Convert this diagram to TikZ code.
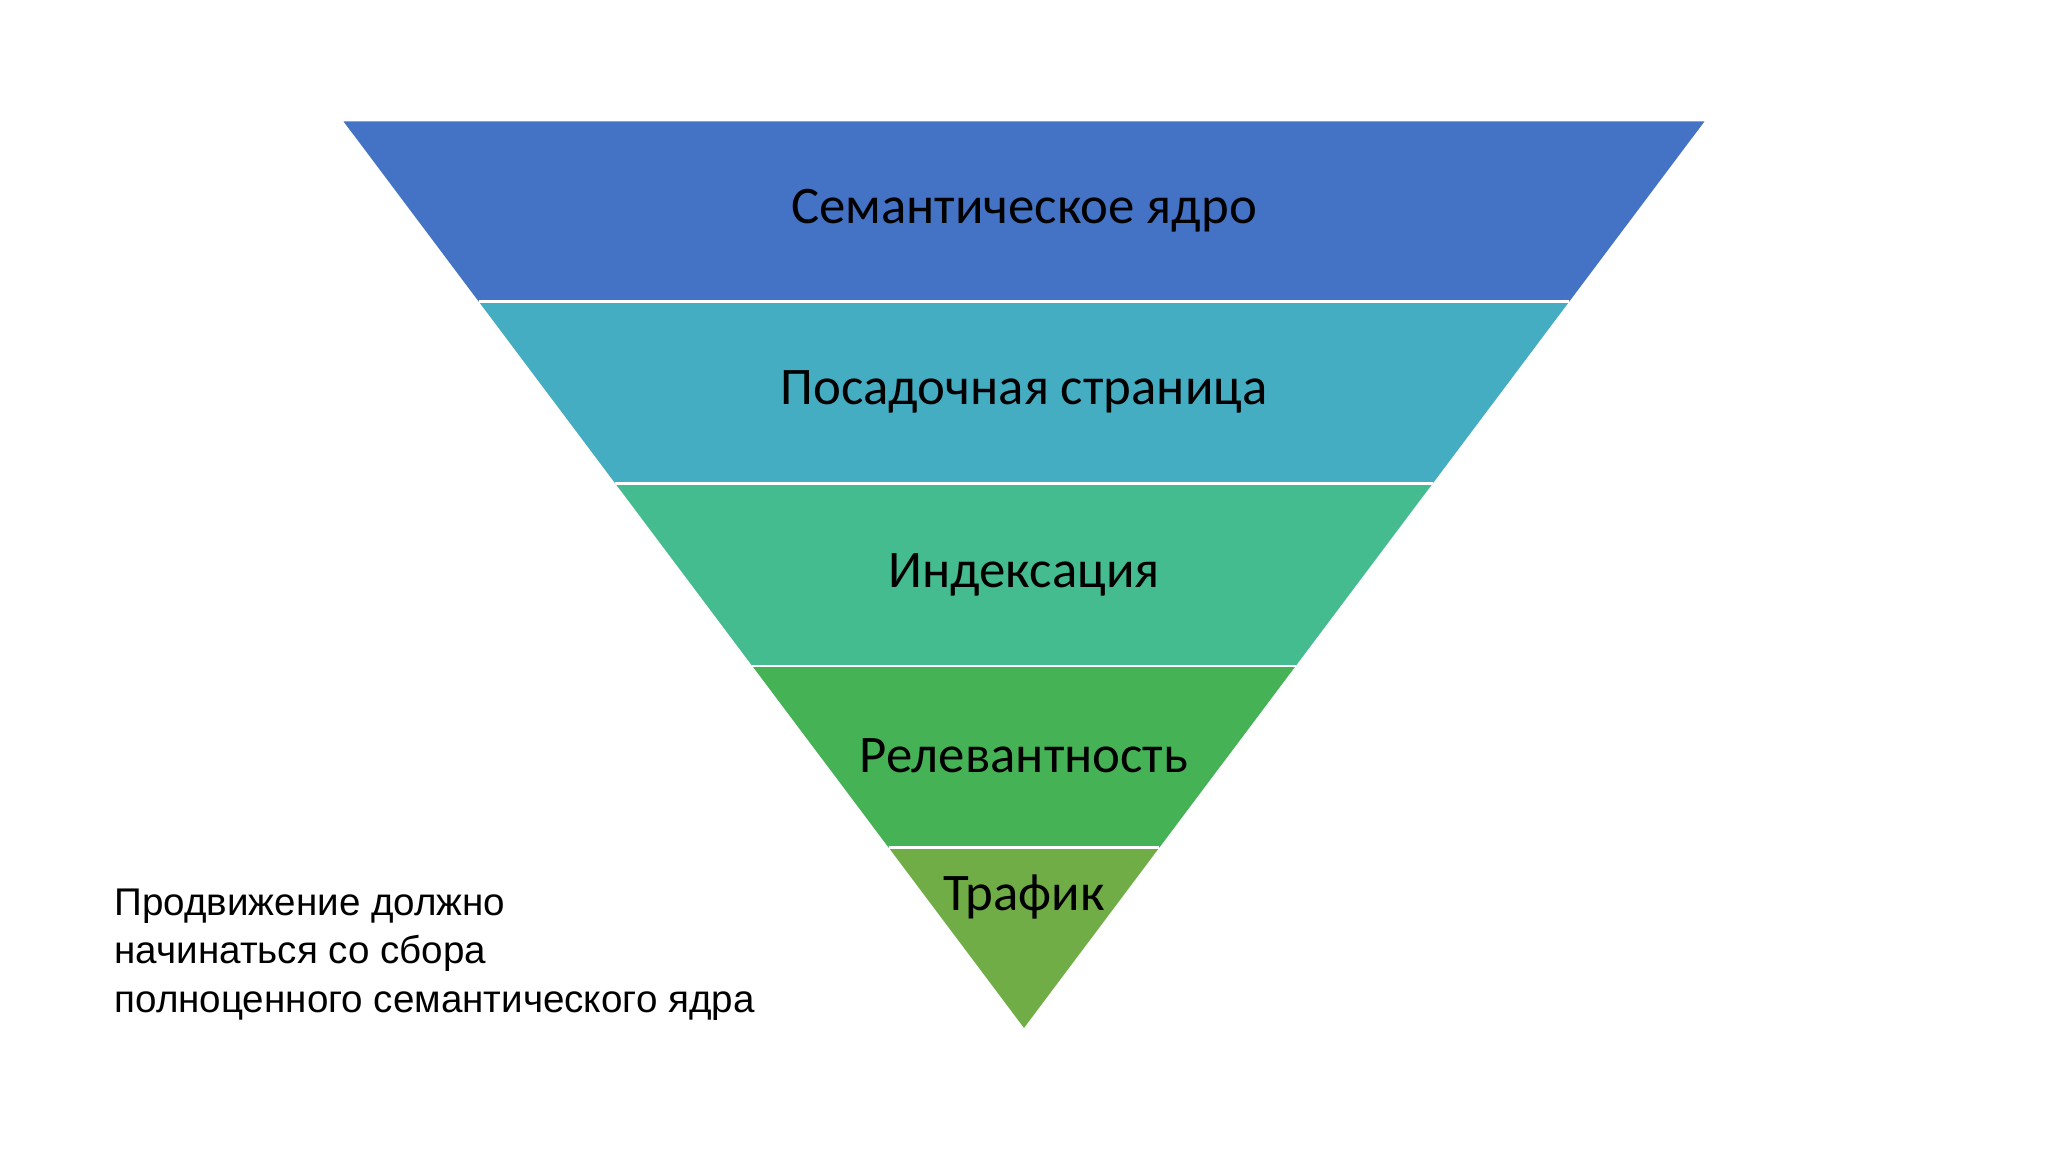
\documentclass[tikz,border=0pt]{standalone}
\usepackage{fontspec}
\setmainfont{Carlito}
\newfontfamily\arialf{Liberation Sans}
\definecolor{cA}{HTML}{4472C4}
\definecolor{cB}{HTML}{44ADC2}
\definecolor{cC}{HTML}{45BB90}
\definecolor{cD}{HTML}{45B255}
\definecolor{cE}{HTML}{70AD47}
\tikzset{band/.style={draw=white,line width=0.02cm},
lbl/.style={font=\fontsize{11.5pt}{13pt}\selectfont,text=black,inner sep=0}}
\begin{document}
\begin{tikzpicture}[x=0.01cm,y=-0.01cm]
\useasboundingbox (0,0) rectangle (1568,882);
\fill[white] (0,0) rectangle (1568,882);
% half width w(y)=0.7507*(787-y)
\def\W#1{0.7507*(787-#1)}
\foreach \ya/\yb/\c in {93/231/cA,231/370/cB,370/510/cC,510/649/cD,649/787/cE}{
  \fill[\c] ({784-\W{\ya}},\ya) -- ({784+\W{\ya}},\ya) -- ({784+\W{\yb}},\yb) -- ({784-\W{\yb}},\yb) -- cycle;
}
\foreach \y in {231,370,510,649}{
  \draw[band] ({784-\W{\y}},\y) -- ({784+\W{\y}},\y);
}
\node[lbl] (t1) at (784,161) {Семантическое ядро};
\node[lbl] (t2) at (784,300) {Посадочная страница};
\node[lbl] (t3) at (784,440) {Индексация};
\node[lbl] (t4) at (784,579) {Релевантность};
\node[lbl] (t5) at (784,687) {Трафик};
\node[anchor=north west,align=left,inner sep=0,font=\arialf\fontsize{8.4pt}{10.5pt}\selectfont] (note) at (87,680)
 {Продвижение должно\\начинаться со сбора\\полноценного семантического ядра};
\end{tikzpicture}
\end{document}
